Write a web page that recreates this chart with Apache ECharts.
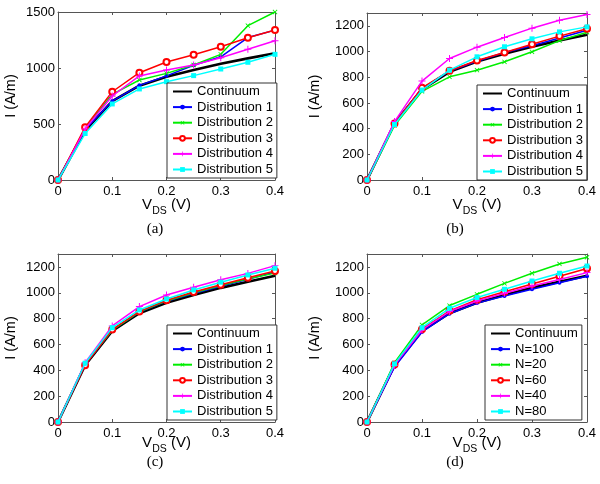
<!DOCTYPE html>
<html><head><meta charset="utf-8">
<script src="https://cdn.jsdelivr.net/npm/echarts@6/dist/echarts.min.js"></script>
<style>html,body{margin:0;padding:0;background:#fff}#c{width:600px;height:484px}</style>
</head><body><div id="c"></div>
<script>
const xs = [0, 0.05, 0.1, 0.15, 0.2, 0.25, 0.3, 0.35, 0.4];
const continuum = [0, 440, 705, 842, 922, 982, 1038, 1086, 1131];
// panel (a)
const a1 = [0, 450, 705, 845, 930, 1025, 1100, 1272, 1338];
const a2 = [0, 460, 765, 893, 952, 1027, 1122, 1378, 1500];
const a3 = [0, 472, 788, 958, 1054, 1119, 1190, 1270, 1339];
const a4 = [0, 455, 750, 929, 982, 1027, 1092, 1167, 1244];
const a5 = [0, 415, 679, 813, 878, 932, 991, 1051, 1122];
// panel (b)
const b1 = [0, 445, 712, 848, 925, 993, 1045, 1105, 1165];
const b2 = [0, 425, 690, 803, 855, 920, 998, 1085, 1150];
const b3 = [0, 440, 718, 850, 930, 992, 1057, 1120, 1178];
const b4 = [0, 455, 770, 946, 1034, 1109, 1182, 1244, 1288];
const b5 = [0, 432, 700, 855, 959, 1037, 1099, 1153, 1192];
// panel (c)
const c1 = [0, 445, 712, 850, 935, 995, 1050, 1105, 1160];
const c2 = [0, 450, 710, 852, 937, 1000, 1056, 1108, 1152];
const c3 = [0, 440, 715, 856, 942, 1006, 1062, 1116, 1168];
const c4 = [0, 458, 743, 893, 983, 1042, 1100, 1150, 1210];
const c5 = [0, 455, 730, 867, 952, 1022, 1082, 1138, 1190];
// panel (d)
const dN100 = [0, 425, 697, 838, 920, 975, 1027, 1077, 1128];
const dN20 = [0, 458, 751, 901, 988, 1073, 1151, 1223, 1275];
const dN60 = [0, 445, 718, 860, 946, 1008, 1068, 1128, 1188];
const dN40 = [0, 440, 712, 855, 936, 996, 1052, 1103, 1156];
const dN80 = [0, 450, 730, 880, 963, 1027, 1091, 1151, 1207];

const distNames = ['Continuum', 'Distribution 1', 'Distribution 2', 'Distribution 3', 'Distribution 4', 'Distribution 5'];
const nNames = ['Continuum', 'N=100', 'N=20', 'N=60', 'N=40', 'N=80'];
const captions = ['(a)', '(b)', '(c)', '(d)'];
const yMax = [1500, 1300, 1300, 1300];
const yInt = [500, 200, 200, 200];

const panels = [
  {names: distNames, data: [continuum, a1, a2, a3, a4, a5]},
  {names: distNames, data: [continuum, b1, b2, b3, b4, b5]},
  {names: distNames, data: [continuum, c1, c2, c3, c4, c5]},
  {names: nNames, data: [continuum, dN100, dN20, dN60, dN40, dN80]}
];

const grids = [
  {left: 58, top: 12, width: 217, height: 168},
  {left: 367, top: 13, width: 220, height: 167},
  {left: 58, top: 254, width: 217, height: 168},
  {left: 367, top: 254, width: 220, height: 168}
];
const legendPos = [
  {left: 167, top: 83}, {left: 477, top: 85}, {left: 167, top: 325}, {left: 485, top: 325}
];
const xNameGap = [17, 17, 13, 13];
const captionPos = [[155, 229], [455, 229], [155, 462], [455, 462]];

const PLUS = 'path://M4.3,0H5.7V4.3H10V5.7H5.7V10H4.3V5.7H0V4.3H4.3Z';
const styles = [
  {color: '#000000', width: 2.6, symbol: 'none', size: 0, rot: 0},
  {color: '#0000ff', width: 1.5, symbol: 'circle', size: 4, rot: 0},
  {color: '#00ee00', width: 1.5, symbol: PLUS, size: 6, rot: 45},
  {color: '#ff0000', width: 1.5, symbol: 'emptyCircle', size: 6, rot: 0},
  {color: '#ff00ff', width: 1.5, symbol: PLUS, size: 7, rot: 0},
  {color: '#00ffff', width: 1.5, symbol: 'rect', size: 5, rot: 0}
];

const FONT = 'Liberation Sans';
const axisCol = '#555';
const xAxis = [], yAxis = [], series = [], legend = [], graphic = [];

grids.forEach((g, i) => {
  const common = {
    gridIndex: i, type: 'value', splitLine: {show: false},
    axisLine: {show: true, onZero: false, lineStyle: {color: axisCol, width: 1}},
    axisTick: {show: true, inside: true, length: 3, lineStyle: {color: axisCol}}
  };
  xAxis.push(Object.assign({}, common, {
    position: 'bottom', min: 0, max: 0.4, interval: 0.1,
    axisLabel: {color: '#000', fontFamily: FONT, fontSize: 13, margin: 5,
      formatter: v => (Math.round(v * 10) / 10).toString()},
    name: '{v|V}{s|DS}{v| (V)}', nameLocation: 'middle', nameGap: xNameGap[i],
    nameMoveOverlap: false,
    nameTextStyle: {rich: {
      v: {fontFamily: FONT, fontSize: 15, color: '#000', lineHeight: 20, verticalAlign: 'top'},
      s: {fontFamily: FONT, fontSize: 10.5, color: '#000', lineHeight: 10, verticalAlign: 'bottom'}
    }}
  }));
  xAxis.push(Object.assign({}, common, {
    position: 'top', min: 0, max: 0.4, interval: 0.1, axisLabel: {show: false}
  }));
  yAxis.push(Object.assign({}, common, {
    position: 'left', min: 0, max: yMax[i], interval: yInt[i],
    axisLabel: {color: '#000', fontFamily: FONT, fontSize: 13, margin: 3, showMaxLabel: i === 0,
      formatter: v => String(v)},
    name: 'I (A/m)', nameLocation: 'middle', nameRotate: 90, nameGap: i % 2 === 0 ? 40 : 45,
    nameTextStyle: {fontFamily: FONT, fontSize: 14.5, color: '#000'}
  }));
  yAxis.push(Object.assign({}, common, {
    position: 'right', min: 0, max: yMax[i], interval: yInt[i], axisLabel: {show: false}
  }));

  const p = panels[i];
  p.data.forEach((vals, k) => {
    const st = styles[k];
    series.push({
      type: 'line', name: p.names[k], xAxisIndex: 2 * i, yAxisIndex: 2 * i,
      data: xs.map((x, j) => [x, vals[j]]),
      symbol: st.symbol, symbolSize: st.size, symbolRotate: st.rot,
      showSymbol: st.symbol !== 'none',
      lineStyle: {color: st.color, width: st.width},
      itemStyle: {color: st.color, borderColor: st.color, borderWidth: st.symbol === 'emptyCircle' ? 1.5 : 0},
      z: 2 + k, animation: false, silent: true
    });
  });

  legend.push({
    data: p.names.map((n, k) => k === 0 ? {name: n, itemStyle: {opacity: 0}} : n),
    left: legendPos[i].left, top: legendPos[i].top, orient: 'vertical',
    itemWidth: 19, itemHeight: 6, itemGap: 0.6, padding: [1, 4, 1, 5],
    backgroundColor: '#fff', borderColor: '#333', borderWidth: 1, borderRadius: 0,
    textStyle: {fontFamily: FONT, fontSize: 13, color: '#000', lineHeight: 15},
    selectedMode: false, z: 20
  });

  graphic.push({
    type: 'text', x: captionPos[i][0], y: captionPos[i][1],
    style: {text: captions[i], fontFamily: 'Liberation Serif', fontSize: 15, fill: '#000',
      align: 'center', verticalAlign: 'middle'}
  });
});

const chart = echarts.init(document.getElementById('c'), null, {renderer: 'canvas'});
chart.setOption({
  animation: false, backgroundColor: '#fff',
  grid: grids, xAxis, yAxis, series, legend, graphic
});
</script></body></html>
